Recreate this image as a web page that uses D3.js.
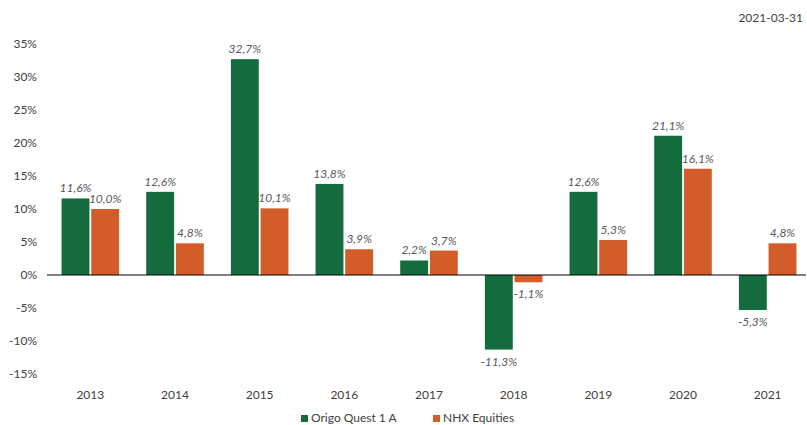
<!DOCTYPE html>
<html>
<head>
<meta charset="utf-8">
<script src="https://cdn.jsdelivr.net/npm/d3@7"></script>
<style>
  body { margin: 0; background: #fff; }
  text { font-family: "Lato", "DejaVu Sans", sans-serif; }
</style>
</head>
<body>
<div class="chart"></div>
<script>
var years = ["2013", "2014", "2015", "2016", "2017", "2018", "2019", "2020", "2021"];
var seriesNames = ["Origo Quest 1 A", "NHX Equities"];
var origo = [11.6, 12.6, 32.7, 13.8, 2.2, -11.3, 12.6, 21.1, -5.3];
var nhx = [10.0, 4.8, 10.1, 3.9, 3.7, -1.1, 5.3, 16.1, 4.8];
var yTicks = [35, 30, 25, 20, 15, 10, 5, 0, -5, -10, -15];
var dateLabel = "2021-03-31";

var width = 807, height = 425;
var colors = ["#146b3d", "#d35c2b"];

var svg = d3.select(".chart")
    .append("svg")
    .attr("width", width)
    .attr("height", height);

var x = d3.scaleBand()
    .domain(years)
    .range([48, 810])
    .paddingInner(0.32)
    .paddingOuter(0.16);

var xInner = d3.scaleBand()
    .domain(seriesNames)
    .range([0, x.bandwidth()])
    .paddingInner(0.06);

var y = d3.scaleLinear()
    .domain([-15, 35])
    .range([374, 44]);

// y tick labels
svg.append("g")
    .selectAll("text")
    .data(yTicks)
    .enter()
    .append("text")
    .attr("x", 37)
    .attr("y", function(d) { return y(d); })
    .attr("dy", "0.35em")
    .attr("text-anchor", "end")
    .style("font-size", "12px")
    .style("fill", "#404040")
    .text(function(d) { return d + "%"; });

var rows = years.map(function(yr, i) {
    return { year: yr, values: [origo[i], nhx[i]] };
});

var group = svg.selectAll(".grp")
    .data(rows)
    .enter()
    .append("g")
    .attr("class", "grp")
    .attr("transform", function(d) { return "translate(" + x(d.year) + ",0)"; });

group.selectAll("rect")
    .data(function(d) {
        return d.values.map(function(v, j) { return { name: seriesNames[j], value: v, j: j }; });
    })
    .enter()
    .append("rect")
    .attr("x", function(d) { return xInner(d.name); })
    .attr("width", xInner.bandwidth())
    .attr("y", function(d) { return y(Math.max(0, d.value)); })
    .attr("height", function(d) { return Math.abs(y(d.value) - y(0)); })
    .style("fill", function(d) { return colors[d.j]; });

group.selectAll(".lbl")
    .data(function(d) {
        return d.values.map(function(v, j) { return { name: seriesNames[j], value: v, j: j }; });
    })
    .enter()
    .append("text")
    .attr("class", "lbl")
    .attr("x", function(d) { return xInner(d.name) + xInner.bandwidth() / 2; })
    .attr("y", function(d) { return d.value >= 0 ? y(d.value) - 6 : y(d.value) + 16; })
    .attr("text-anchor", "middle")
    .style("font-size", "12px")
    .style("font-style", "italic")
    .style("fill", "#595959")
    .text(function(d) { return d3.format(".1f")(d.value).replace(".", ",").replace("\u2212", "-") + "%"; });

// zero line
svg.append("line")
    .attr("x1", 47)
    .attr("x2", 806)
    .attr("y1", y(0))
    .attr("y2", y(0))
    .style("stroke", "#000")
    .style("stroke-width", 1);

// x labels
svg.append("g")
    .selectAll("text")
    .data(years)
    .enter()
    .append("text")
    .attr("x", function(d) { return x(d) + x.bandwidth() / 2; })
    .attr("y", 395)
    .attr("dy", "0.35em")
    .attr("text-anchor", "middle")
    .style("font-size", "12px")
    .style("fill", "#404040")
    .text(function(d) { return d; });

// date
svg.append("text")
    .attr("x", 803)
    .attr("y", 22)
    .attr("text-anchor", "end")
    .style("font-size", "12px")
    .style("fill", "#404040")
    .text(dateLabel);

// legend
var legendX = [301, 433];
var legend = svg.selectAll(".leg")
    .data(seriesNames)
    .enter()
    .append("g")
    .attr("class", "leg")
    .attr("transform", function(d, i) { return "translate(" + legendX[i] + ",418)"; });

legend.append("rect")
    .attr("x", 0)
    .attr("y", -3)
    .attr("width", 7)
    .attr("height", 7)
    .style("fill", function(d, i) { return colors[i]; });

legend.append("text")
    .attr("x", 10)
    .attr("y", 0)
    .attr("dy", "0.35em")
    .style("font-size", "12px")
    .style("fill", "#404040")
    .text(function(d) { return d; });
</script>
</body>
</html>
